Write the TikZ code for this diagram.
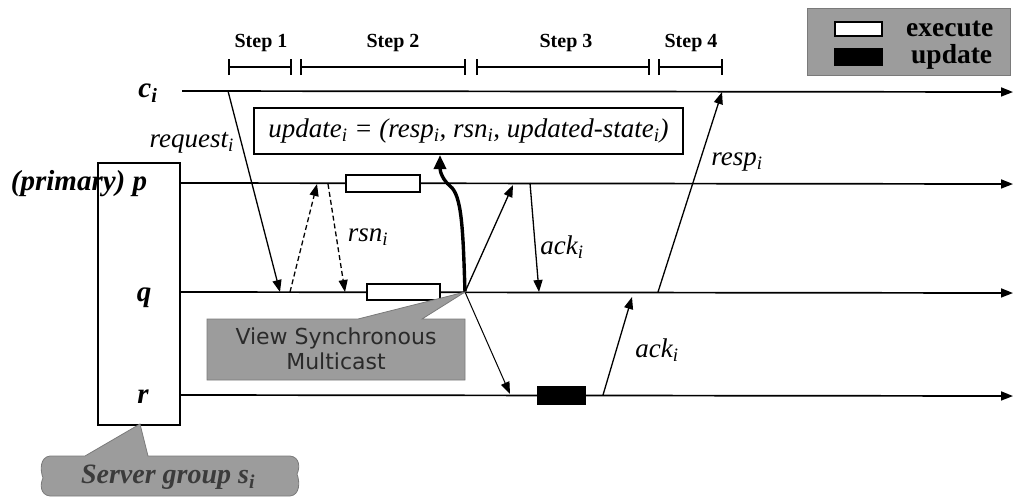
\documentclass[tikz,border=0pt]{standalone}
\usepackage{fontspec}
\setmainfont{Liberation Serif}
\newfontfamily\vsfont{DejaVu Sans}
\usetikzlibrary{arrows.meta}
\definecolor{callgray}{HTML}{9C9C9C}
\definecolor{calledge}{HTML}{7A7A7A}
\definecolor{calltext}{HTML}{2A2A2A}
\begin{document}
\begin{tikzpicture}[x=1pt,y=-1pt,
  timeline/.style={line width=1.7pt,-{Triangle[length=12pt,width=9pt]}},
  msg/.style={line width=1.3pt,-{Triangle[length=12pt,width=9pt]}},
  dmsg/.style={msg,dashed,dash pattern=on 5pt off 3pt},
  stepbar/.style={line width=2pt,{Bar[width=16pt]}-{Bar[width=16pt]}},
  steplabel/.style={font=\fontsize{20}{22}\selectfont\bfseries,inner sep=0pt},
  proclabel/.style={font=\fontsize{29}{32}\selectfont\bfseries\itshape,inner sep=0pt},
  msglabel/.style={font=\fontsize{27}{30}\selectfont\itshape,inner sep=0pt},
  execbox/.style={draw,line width=1.3pt,fill=white,inner sep=0pt},
  updbox/.style={draw,line width=1.3pt,fill=black,inner sep=0pt},
  legendtext/.style={font=\fontsize{27.5}{30}\selectfont\bfseries,inner sep=0pt,anchor=west},
  callout/.style={fill=callgray,draw=calledge,line width=0.8pt}
]
\useasboundingbox (0,0) rectangle (1015,499);

% legend
\node[fill=callgray,draw=calledge,line width=0.8pt,minimum width=203pt,minimum height=67pt,inner sep=0pt] (legend) at (908.5,41.5) {};
\node[execbox,minimum width=47pt,minimum height=14pt] (legexec) at (858.5,29) {};
\node[updbox,minimum width=47pt,minimum height=16pt] (legupd) at (858.5,57) {};
\node[legendtext] (legexectext) at (906,29) {execute};
\node[legendtext] (legupdtext) at (911,57) {update};

% step bars
\coordinate (s1a) at (228,67); \coordinate (s1b) at (292,67);
\coordinate (s2a) at (300,67); \coordinate (s2b) at (466,67);
\coordinate (s3a) at (476,67); \coordinate (s3b) at (650,67);
\coordinate (s4a) at (658,67); \coordinate (s4b) at (723,67);
\draw[stepbar] (s1a) -- (s1b);
\draw[stepbar] (s2a) -- (s2b);
\draw[stepbar] (s3a) -- (s3b);
\draw[stepbar] (s4a) -- (s4b);
\node[steplabel] (st1) at (261,43) {Step 1};
\node[steplabel] (st2) at (393,43) {Step 2};
\node[steplabel] (st3) at (566,43) {Step 3};
\node[steplabel] (st4) at (691,43) {Step 4};

% server group box
\node[draw,line width=1.2pt,minimum width=82pt,minimum height=262pt,inner sep=0pt] (group) at (139,294) {};

% process labels
\node[proclabel] (lci) at (148,93) {c\textsubscript{i}};
\node[proclabel] (lp) at (79,184) {(primary) p};
\node[proclabel] (lq) at (144,298) {q};
\node[proclabel] (lr) at (143,397) {r};

% timelines
\coordinate (ci0) at (182,91);  \coordinate (ci1) at (1013,92);
\coordinate (p0) at (180,183);  \coordinate (p1) at (1013,184);
\coordinate (q0) at (180,292);  \coordinate (q1) at (1013,293);
\coordinate (r0) at (180,395);  \coordinate (r1) at (1013,396);
\draw[timeline] (ci0) -- (ci1);
\draw[timeline] (p0) -- (p1);
\draw[timeline] (q0) -- (q1);
\draw[timeline] (r0) -- (r1);

% update message box
\node[draw,line width=1.3pt,minimum width=429pt,minimum height=46pt,inner sep=0pt,msglabel] (upd) at (468.5,131)
  {update\textsubscript{i} = (resp\textsubscript{i}, rsn\textsubscript{i}, updated-state\textsubscript{i})};

% execute / update activity boxes
\node[execbox,minimum width=74pt,minimum height=17pt] (xp) at (383,183.5) {};
\node[execbox,minimum width=73pt,minimum height=16pt] (xq) at (403.5,292) {};
\node[updbox,minimum width=47pt,minimum height=17pt] (ur) at (561.5,395.5) {};

% event points
\coordinate (reqS) at (228,91);  \coordinate (reqE) at (280,292);
\coordinate (d1S) at (290,292);  \coordinate (d1E) at (317,184);
\coordinate (d2S) at (328,184);  \coordinate (d2E) at (345,292);
\coordinate (M) at (465,292);
\coordinate (upTip) at (440,155);
\coordinate (toP) at (513,185);
\coordinate (toR) at (510,394);
\coordinate (ackPS) at (530,183); \coordinate (ackPE) at (539,292);
\coordinate (ackRS) at (603,395); \coordinate (ackRE) at (632,297);
\coordinate (respS) at (658,292); \coordinate (respE) at (722,92);

% messages
\draw[msg] (reqS) -- (reqE);
\draw[dmsg] (d1S) -- (d1E);
\draw[dmsg] (d2S) -- (d2E);
\draw[msg] (M) -- (toP);
\draw[msg,line width=1pt] (M) -- (toR);
\draw[line width=3.4pt,-{Triangle[length=14pt,width=12pt]}] (M) .. controls (463,230) and (462,195) .. (450,186) .. controls (443,180) and (440,172) .. (upTip);
\draw[msg] (ackPS) -- (ackPE);
\draw[msg] (ackRS) -- (ackRE);
\draw[msg] (respS) -- (respE);

% message labels
\node[msglabel,anchor=east] (lreq) at (234,143) {request\textsubscript{i}};
\node[msglabel] (lrsn) at (368,237) {rsn\textsubscript{i}};
\node[msglabel] (lackp) at (562,247) {ack\textsubscript{i}};
\node[msglabel] (lackr) at (657,350) {ack\textsubscript{i}};
\node[msglabel] (lresp) at (737,162) {resp\textsubscript{i}};

% callout: view synchronous multicast
\path[callout] (207,319) -- (358,319) -- (M) -- (422,319) -- (465,319) -- (465,380) -- (207,380) -- cycle;
\node[font=\vsfont\fontsize{22}{25}\selectfont,text=calltext,align=center,inner sep=0pt] (vsm) at (336,349) {View Synchronous\\Multicast};

% callout: server group
\path[callout] (85,456) -- (140,424) -- (148,456) -- (290,456)
  .. controls (300,457) and (300,468) .. (297,474)
  .. controls (300,482) and (300,495) .. (290,496)
  -- (50,496) .. controls (40,495) and (40,484) .. (43,478)
  .. controls (40,470) and (40,457) .. (50,456) -- cycle;
\node[font=\fontsize{28}{30}\selectfont\bfseries\itshape,text=calltext!80!gray,inner sep=0pt] (sg) at (168,477) {Server group s\textsubscript{i}};
\end{tikzpicture}
\end{document}
